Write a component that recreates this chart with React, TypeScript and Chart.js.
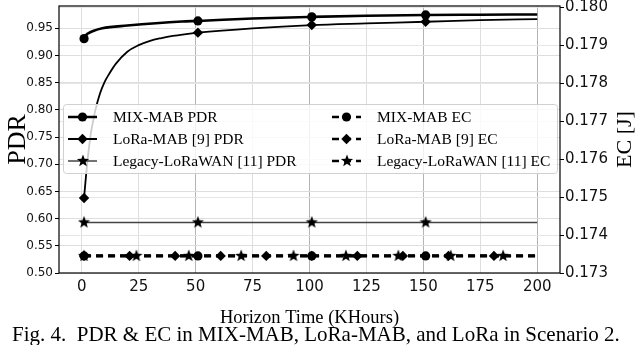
import React, { useEffect, useRef } from 'react';
import { Chart, registerables } from 'chart.js';

Chart.register(...registerables);

// ---- tick labels ----
const xTicks = [0, 25, 50, 75, 100, 125, 150, 175, 200];
const pdrTicks = [0.5, 0.55, 0.6, 0.65, 0.7, 0.75, 0.8, 0.85, 0.9, 0.95];
const ecTicks = [0.173, 0.174, 0.175, 0.176, 0.177, 0.178, 0.179, 0.18];

// ---- series (Horizon time in KHours) ----
const mixPdrX = [1, 2, 3, 5, 9, 20, 44, 51, 75, 101, 125, 151, 175, 200];
const mixPdrY = [0.931, 0.938, 0.941, 0.945, 0.95, 0.955, 0.9625, 0.9635, 0.968, 0.971, 0.973, 0.9745, 0.975, 0.9755];
const mixPdrMarks = [1, 51, 101, 151];

const loraPdrX = [1, 2, 3, 4, 5, 6, 8, 10, 12, 15, 20, 25, 30, 35, 40, 45, 51, 75, 101, 125, 151, 175, 200];
const loraPdrY = [0.638, 0.685, 0.725, 0.757, 0.78, 0.8, 0.83, 0.851, 0.866, 0.885, 0.907, 0.919, 0.927, 0.932, 0.936, 0.939, 0.942, 0.95, 0.956, 0.959, 0.962, 0.965, 0.967];
const loraPdrMarks = [1, 51, 101, 151];

const legacyPdrX = [1, 51, 101, 151, 200];
const legacyPdrY = [0.593, 0.593, 0.593, 0.593, 0.593];
const legacyPdrMarks = [1, 51, 101, 151];

const mixEcX = [1, 51, 101, 151, 200];
const mixEcY = [0.17345, 0.17345, 0.17345, 0.17345, 0.17345];
const mixEcMarks = [1, 51, 101, 151];

const loraEcX = [1, 21, 41, 61, 81, 101, 121, 141, 161, 181, 200];
const loraEcY = [0.17345, 0.17345, 0.17345, 0.17345, 0.17345, 0.17345, 0.17345, 0.17345, 0.17345, 0.17345, 0.17345];
const loraEcMarks = [1, 21, 41, 61, 81, 101, 121, 141, 161, 181];

const legacyEcX = [1, 24, 47, 70, 93, 116, 139, 162, 185, 200];
const legacyEcY = [0.17345, 0.17345, 0.17345, 0.17345, 0.17345, 0.17345, 0.17345, 0.17345, 0.17345, 0.17345];
const legacyEcMarks = [1, 24, 47, 70, 93, 116, 139, 162, 185];

const legendLabels = [
  'MIX-MAB PDR',
  'LoRa-MAB [9] PDR',
  'Legacy-LoRaWAN [11] PDR',
  'MIX-MAB EC',
  'LoRa-MAB [9] EC',
  'Legacy-LoRaWAN [11] EC',
];

const ecTitle = 'EC [J]';
const caption = 'Fig. 4.  PDR & EC in MIX-MAB, LoRa-MAB, and LoRa in Scenario 2.';

const SERIF = '"Liberation Serif", "Times New Roman", serif';
const SANS = '"DejaVu Sans", sans-serif';

function makeStar(r: number, inner: number): HTMLCanvasElement {
  const c = document.createElement('canvas');
  const s = 2 * Math.ceil(r) + 2;
  c.width = s;
  c.height = s;
  const g = c.getContext('2d')!;
  const cx = s / 2;
  g.beginPath();
  for (let i = 0; i < 10; i++) {
    const ang = -Math.PI / 2 + (i * Math.PI) / 5;
    const rr = i % 2 ? inner : r;
    g.lineTo(cx + rr * Math.cos(ang), cx + rr * Math.sin(ang));
  }
  g.closePath();
  g.fillStyle = '#000';
  g.fill();
  return c;
}

function pts(xs: number[], ys: number[]) {
  return xs.map((x, i) => ({ x, y: ys[i] }));
}

function drawMarker(ctx: CanvasRenderingContext2D, kind: string, x: number, y: number, star: HTMLCanvasElement) {
  ctx.fillStyle = '#000';
  if (kind === 'circle') {
    ctx.beginPath();
    ctx.arc(x, y, 4.6, 0, Math.PI * 2);
    ctx.fill();
  } else if (kind === 'diamond') {
    ctx.beginPath();
    ctx.moveTo(x, y - 5.2);
    ctx.lineTo(x + 5.2, y);
    ctx.lineTo(x, y + 5.2);
    ctx.lineTo(x - 5.2, y);
    ctx.closePath();
    ctx.fill();
  } else {
    ctx.drawImage(star, Math.round(x - star.width / 2), Math.round(y - star.height / 2));
  }
}

export default function App() {
  const ref = useRef<HTMLCanvasElement>(null);

  useEffect(() => {
    document.body.style.margin = '0';
    const star = makeStar(6.4, 2.7);

    const mk = (marks: number[], r: number) => (c: any) => {
      const raw = c.raw as { x: number } | undefined;
      return raw && marks.includes(raw.x) ? r : 0;
    };

    const series = [
      { xs: mixPdrX, ys: mixPdrY, marks: mixPdrMarks, axis: 'y', color: '#000', width: 2.6, dash: [], marker: 'circle', curve: true },
      { xs: loraPdrX, ys: loraPdrY, marks: loraPdrMarks, axis: 'y', color: '#000', width: 1.8, dash: [], marker: 'diamond', curve: true },
      { xs: legacyPdrX, ys: legacyPdrY, marks: legacyPdrMarks, axis: 'y', color: '#444', width: 1.6, dash: [], marker: 'star', curve: false },
      { xs: mixEcX, ys: mixEcY, marks: mixEcMarks, axis: 'y1', color: '#000', width: 2.6, dash: [7, 5], marker: 'circle', curve: false },
      { xs: loraEcX, ys: loraEcY, marks: loraEcMarks, axis: 'y1', color: '#000', width: 2.6, dash: [7, 5], marker: 'diamond', curve: false },
      { xs: legacyEcX, ys: legacyEcY, marks: legacyEcMarks, axis: 'y1', color: '#000', width: 2.6, dash: [7, 5], marker: 'star', curve: false },
    ];

    const datasets = series.map((s, i) => ({
      label: legendLabels[i],
      data: pts(s.xs, s.ys),
      yAxisID: s.axis,
      borderColor: s.color,
      borderWidth: s.width,
      borderDash: s.dash,
      cubicInterpolationMode: s.curve ? ('monotone' as const) : ('default' as const),
      pointStyle: s.marker === 'circle' ? 'circle' : s.marker === 'diamond' ? 'rectRot' : star,
      pointRadius: mk(s.marks, s.marker === 'circle' ? 4.6 : 5.2),
      pointBackgroundColor: '#000',
      pointBorderColor: '#000',
      pointBorderWidth: 0,
      order: 6 - i,
      fill: false,
      marker: s.marker,
    }));

    const decor = {
      id: 'decor',
      afterDatasetsDraw(chart: any) {
        const { ctx, chartArea: a } = chart;
        ctx.save();
        // frame
        ctx.strokeStyle = '#000';
        ctx.lineWidth = 1.2;
        ctx.setLineDash([]);
        ctx.strokeRect(a.left, a.top, a.right - a.left, a.bottom - a.top);

        // legend box
        const bx = a.left + 4.5, by = 104.5, bw = 494, bh = 69, rr = 3;
        ctx.beginPath();
        ctx.moveTo(bx + rr, by);
        ctx.lineTo(bx + bw - rr, by);
        ctx.arcTo(bx + bw, by, bx + bw, by + rr, rr);
        ctx.lineTo(bx + bw, by + bh - rr);
        ctx.arcTo(bx + bw, by + bh, bx + bw - rr, by + bh, rr);
        ctx.lineTo(bx + rr, by + bh);
        ctx.arcTo(bx, by + bh, bx, by + bh - rr, rr);
        ctx.lineTo(bx, by + rr);
        ctx.arcTo(bx, by, bx + rr, by, rr);
        ctx.closePath();
        ctx.fillStyle = 'rgba(255,255,255,0.8)';
        ctx.fill();
        ctx.strokeStyle = '#d0d0d0';
        ctx.lineWidth = 1;
        ctx.stroke();

        const ds = chart.data.datasets;
        const rowY = [117, 139, 161];
        const colX = [a.left + 9, a.left + 273];
        ctx.font = `15.5px ${SERIF}`;
        ctx.textBaseline = 'middle';
        ctx.textAlign = 'left';
        ds.forEach((d: any, i: number) => {
          const col = i < 3 ? 0 : 1;
          const y = rowY[i % 3];
          const x0 = colX[col];
          const hl = 29;
          ctx.save();
          ctx.beginPath();
          ctx.rect(x0, y - 5, hl, 10);
          ctx.clip();
          ctx.strokeStyle = d.borderColor;
          ctx.lineWidth = d.borderWidth;
          ctx.setLineDash(d.borderDash || []);
          ctx.beginPath();
          ctx.moveTo(x0, y);
          ctx.lineTo(x0 + hl + 10, y);
          ctx.stroke();
          ctx.restore();
          ctx.setLineDash([]);
          drawMarker(ctx, d.marker, x0 + hl / 2, y, star);
          ctx.fillStyle = '#000';
          ctx.fillText(d.label, x0 + 45, y + 1);
        });
        ctx.restore();
      },
      afterDraw(chart: any) {
        const { ctx, chartArea: a } = chart;
        ctx.save();
        // right axis title (reads bottom-to-top)
        ctx.font = `22px ${SERIF}`;
        ctx.fillStyle = '#000';
        ctx.translate(625.5, (a.top + a.bottom) / 2);
        ctx.rotate(-Math.PI / 2);
        ctx.textAlign = 'center';
        ctx.textBaseline = 'middle';
        ctx.fillText(ecTitle, 0, 0);
        ctx.restore();

        ctx.save();
        ctx.font = `21px ${SERIF}`;
        ctx.fillStyle = '#000';
        ctx.textBaseline = 'alphabetic';
        ctx.textAlign = 'left';
        ctx.fillText(caption, 12, 341);
        ctx.restore();
      },
    };

    const chart = new Chart(ref.current!, {
      type: 'line',
      data: { datasets: datasets as any },
      options: {
        animation: false,
        responsive: false,
        devicePixelRatio: 1,
        layout: { padding: { top: 6, left: 0, right: 0, bottom: 0 } },
        plugins: { legend: { display: false }, tooltip: { enabled: false } },
        elements: { line: { tension: 0 } },
        scales: {
          x: {
            type: 'linear',
            min: -10,
            max: 210,
            afterBuildTicks: (s: any) => { s.ticks = xTicks.map((v) => ({ value: v })); },
            afterFit: (s: any) => { s.height = 72; s.paddingLeft = 0; s.paddingRight = 0; s.paddingTop = 0; s.paddingBottom = 0; },
            ticks: {
              font: { family: SANS, size: 15 },
              color: '#111',
              padding: 5,
              maxRotation: 0,
              autoSkip: false,
              callback: (v: any) => String(v),
            },
            grid: {
              color: (c: any) => (c.tick && c.tick.value % 50 === 0 && c.tick.value !== 0 ? '#b4b4b4' : '#dedede'),
              lineWidth: 1,
              drawTicks: false,
            },
            border: { display: false },
            title: {
              display: true,
              text: 'Horizon Time (KHours)',
              font: { family: SERIF, size: 18.5 },
              color: '#000',
              padding: { top: 0, bottom: 16 },
            },
          },
          y: {
            type: 'linear',
            position: 'left',
            min: 0.5,
            max: 0.991,
            afterBuildTicks: (s: any) => { s.ticks = pdrTicks.map((v) => ({ value: v })); },
            afterFit: (s: any) => { s.width = 59; s.paddingLeft = 0; s.paddingRight = 0; s.paddingTop = 0; s.paddingBottom = 0; },
            ticks: {
              font: { family: SANS, size: 12 },
              color: '#111',
              padding: 2,
              autoSkip: false,
              callback: (v: any) => Number(v).toFixed(2),
            },
            grid: { color: '#dedede', lineWidth: 1, tickColor: '#000', tickLength: 4, tickWidth: 1 },
            border: { display: false },
            title: {
              display: true,
              text: 'PDR',
              font: { family: SERIF, size: 26 },
              color: '#000',
              padding: { top: 3, bottom: 0 },
            },
          },
          y1: {
            type: 'linear',
            position: 'right',
            min: 0.173,
            max: 0.18003,
            afterBuildTicks: (s: any) => { s.ticks = ecTicks.map((v) => ({ value: v })); },
            afterFit: (s: any) => { s.width = 80; s.paddingLeft = 0; s.paddingRight = 0; s.paddingTop = 0; s.paddingBottom = 0; },
            ticks: {
              font: { family: SANS, size: 15 },
              color: '#111',
              padding: 1,
              autoSkip: false,
              callback: (v: any) => Number(v).toFixed(3),
            },
            grid: { color: '#e6e6e6', lineWidth: 1, tickColor: '#000', tickLength: 4, tickWidth: 1 },
            border: { display: false },
            title: { display: false },
          },
        },
      },
      plugins: [decor],
    });

    return () => chart.destroy();
  }, []);

  return <canvas ref={ref} width={640} height={345} style={{ display: 'block' }} />;
}
